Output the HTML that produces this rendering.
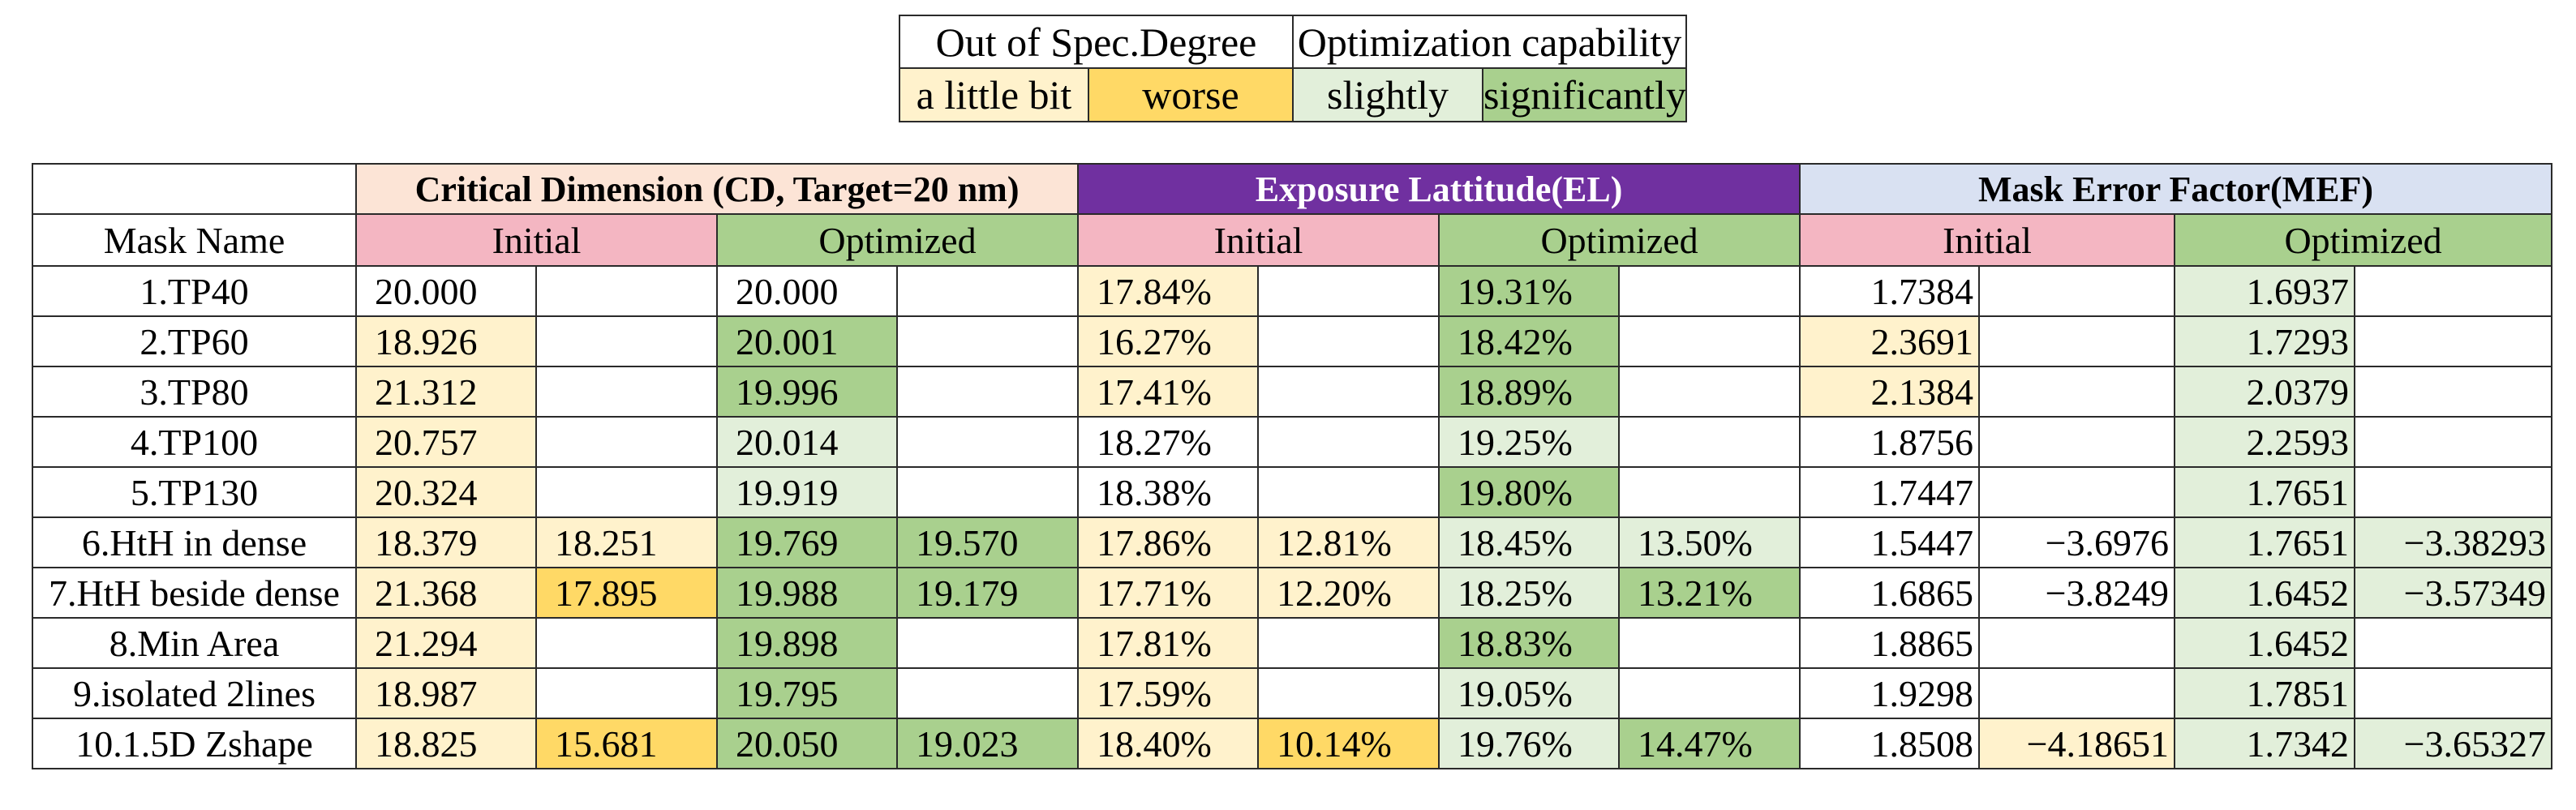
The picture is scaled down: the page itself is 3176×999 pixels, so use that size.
<!DOCTYPE html>
<html><head><meta charset="utf-8">
<style>
body{margin:0;width:3176px;height:999px;background:#fff;position:relative;overflow:hidden;font-family:"Liberation Serif","Times New Roman",serif;color:#000}
table{border-collapse:collapse;position:absolute;table-layout:fixed;font-family:"Liberation Serif","Times New Roman",serif}
td{border:2px solid #2a2a2a;padding:0;white-space:nowrap;overflow:hidden;font-family:"Liberation Serif","Times New Roman",serif}
#legend{left:1108px;top:18px;width:970px}
#legend td{text-align:center;font-size:50px;height:63px}
#main{left:39px;top:201px;width:3106px}
#main td{font-size:46px;height:60px}
.c{text-align:center}.l{text-align:left;padding-left:22px}.r{text-align:right;padding-right:6px}
.ly{background:#FFF2CC}.gd{background:#FFD966}.lg{background:#E2EFDA}.gr{background:#A9D08E}
.pk{background:#F4B6C2}.pe{background:#FCE4D6}.pu{background:#7030A0;color:#fff}.bl{background:#D9E1F2}
.b{font-weight:bold;font-size:44px!important}
</style></head><body>
<table id="legend">
<colgroup><col style="width:233px"><col style="width:252px"><col style="width:234px"><col style="width:251px"></colgroup>
<tr><td colspan="2">Out of Spec.Degree</td><td colspan="2">Optimization capability</td></tr>
<tr style="height:66px"><td class="ly">a little bit</td><td class="gd">worse</td><td class="lg">slightly</td><td class="gr">significantly</td></tr>
</table>
<table id="main">
<colgroup><col style="width:399px"><col style="width:222px"><col style="width:223px"><col style="width:222px"><col style="width:223px"><col style="width:222px"><col style="width:223px"><col style="width:222px"><col style="width:223px"><col style="width:221px"><col style="width:241px"><col style="width:222px"><col style="width:243px"></colgroup>
<tbody id="tb">
<tr><td></td><td colspan="4" class="c pe b">Critical Dimension (CD, Target=20 nm)</td><td colspan="4" class="c pu b">Exposure Lattitude(EL)</td><td colspan="4" class="c bl b">Mask Error Factor(MEF)</td></tr>
<tr style="height:64px"><td class="c">Mask Name</td>
<td colspan="2" class="c pk">Initial</td><td colspan="2" class="c gr">Optimized</td>
<td colspan="2" class="c pk">Initial</td><td colspan="2" class="c gr">Optimized</td>
<td colspan="2" class="c pk">Initial</td><td colspan="2" class="c gr">Optimized</td></tr>
</tbody></table>
<script>
const names=["1.TP40","2.TP60","3.TP80","4.TP100","5.TP130","6.HtH in dense","7.HtH beside dense","8.Min Area","9.isolated 2lines","10.1.5D Zshape"];
const cdI=["20.000","18.926","21.312","20.757","20.324","18.379","21.368","21.294","18.987","18.825"];
const cdI2=["","","","","","18.251","17.895","","","15.681"];
const cdO=["20.000","20.001","19.996","20.014","19.919","19.769","19.988","19.898","19.795","20.050"];
const cdO2=["","","","","","19.570","19.179","","","19.023"];
const elI=["17.84%","16.27%","17.41%","18.27%","18.38%","17.86%","17.71%","17.81%","17.59%","18.40%"];
const elI2=["","","","","","12.81%","12.20%","","","10.14%"];
const elO=["19.31%","18.42%","18.89%","19.25%","19.80%","18.45%","18.25%","18.83%","19.05%","19.76%"];
const elO2=["","","","","","13.50%","13.21%","","","14.47%"];
const mI=["1.7384","2.3691","2.1384","1.8756","1.7447","1.5447","1.6865","1.8865","1.9298","1.8508"];
const mI2=["","","","","","-3.6976","-3.8249","","","-4.18651"];
const mO=["1.6937","1.7293","2.0379","2.2593","1.7651","1.7651","1.6452","1.6452","1.7851","1.7342"];
const mO2=["","","","","","-3.38293","-3.57349","","","-3.65327"];
const f={
cdI:["","ly","ly","ly","ly","ly","ly","ly","ly","ly"],
cdI2:["","","","","","ly","gd","","","gd"],
cdO:["","gr","gr","lg","lg","gr","gr","gr","gr","gr"],
cdO2:["","","","","","gr","gr","","","gr"],
elI:["ly","ly","ly","","","ly","ly","ly","ly","ly"],
elI2:["","","","","","ly","ly","","","gd"],
elO:["gr","gr","gr","lg","gr","lg","lg","gr","lg","lg"],
elO2:["","","","","","lg","gr","","","gr"],
mI:["","ly","ly","","","","","","",""],
mI2:["","","","","","","","","","ly"],
mO:["lg","lg","lg","lg","lg","lg","lg","lg","lg","lg"],
mO2:["","","","","","lg","lg","","","lg"]};
const cols=[["cdI",cdI,"l"],["cdI2",cdI2,"l"],["cdO",cdO,"l"],["cdO2",cdO2,"l"],["elI",elI,"l"],["elI2",elI2,"l"],["elO",elO,"l"],["elO2",elO2,"l"],["mI",mI,"r"],["mI2",mI2,"r"],["mO",mO,"r"],["mO2",mO2,"r"]];
const tb=document.getElementById('tb');
names.forEach((n,i)=>{
  const tr=document.createElement('tr');
  
  
  const th=document.createElement('td');th.className='c';th.textContent=n;
  
  
  tr.appendChild(th);
  cols.forEach(([k,arr,al])=>{
    const td=document.createElement('td');
    td.className=al+' '+f[k][i];
    td.textContent=arr[i].replace('-','−');
    
    
    tr.appendChild(td);
  });
  tb.appendChild(tr);
});
</script>
</body></html>
